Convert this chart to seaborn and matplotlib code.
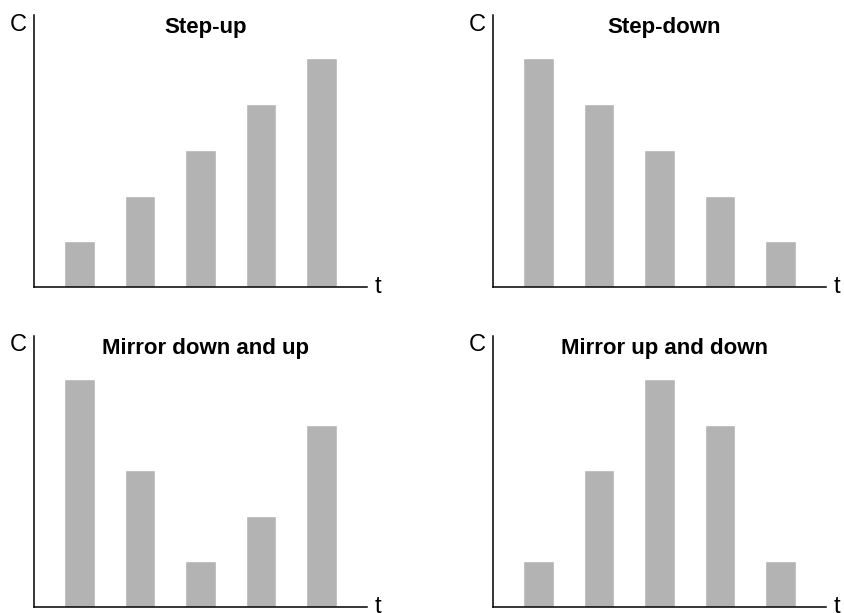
import matplotlib
matplotlib.use("Agg")
import matplotlib.pyplot as plt
import seaborn as sns
import pandas as pd

steps = ["1", "2", "3", "4", "5"]
step_up = [1, 2, 3, 4, 5]
step_down = [5, 4, 3, 2, 1]
mirror_down_up = [5, 3, 1, 2, 4]
mirror_up_down = [1, 3, 5, 4, 1]
titles = ["Step-up", "Step-down", "Mirror down and up", "Mirror up and down"]
series = [step_up, step_down, mirror_down_up, mirror_up_down]

sns.set_style("white")
plt.rcParams['font.family'] = ['Liberation Sans', 'DejaVu Sans']
plt.rcParams['text.color'] = 'black'

fig = plt.figure(figsize=(8.44, 6.13), dpi=100)
W, H = 844, 613
boxes = [(34, 15, 367, 287), (493, 15, 826, 287),
         (34, 336, 367, 607), (493, 336, 826, 607)]

for (x0, y0, x1, y1), title, vals in zip(boxes, titles, series):
    ax = fig.add_axes([x0 / W, (H - y1) / H, (x1 - x0) / W, (y1 - y0) / H])
    df = pd.DataFrame({"t": steps, "C": vals})
    sns.barplot(data=df, x="t", y="C", color="#b3b3b3", saturation=1,
                width=0.5, ax=ax)
    ax.set_xlim(-0.75, 4.75)
    ax.set_ylim(0, 5.95)
    ax.set_xticks([])
    ax.set_yticks([])
    ax.set_xlabel("")
    ax.set_ylabel("")
    for s in ["top", "right"]:
        ax.spines[s].set_visible(False)
    for s in ["left", "bottom"]:
        ax.spines[s].set_color("black")
        ax.spines[s].set_linewidth(1.1)
    ax.text(0.515, 0.955, title, transform=ax.transAxes, ha="center",
            va="center", fontsize=16, fontweight="bold", color="black")
    ax.text(-0.047, 0.965, "C", transform=ax.transAxes, ha="center",
            va="center", fontsize=17, color="black")
    ax.text(1.032, 0.0, "t", transform=ax.transAxes, ha="center",
            va="center", fontsize=17, color="black")

fig.savefig("out.png", dpi=100)
